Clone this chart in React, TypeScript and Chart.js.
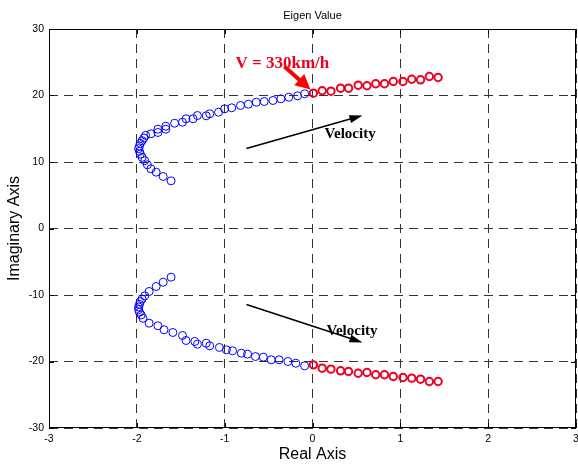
import React, { useEffect, useRef } from "react";
import { Chart, registerables } from "chart.js";

Chart.register(...registerables);

const W = 578;
const H = 467;

// Tick values
const xTicks = [-3, -2, -1, 0, 1, 2, 3];
const yTicks = [-30, -20, -10, 0, 10, 20, 30];

// Upper branch, below 330 km/h (blue)
const upperBlueX = [-1.61, -1.70, -1.78, -1.84, -1.88, -1.91, -1.94, -1.96, -1.97, -1.98, -1.97, -1.96, -1.94, -1.92, -1.90, -1.84, -1.76, -1.76, -1.67, -1.67, -1.57, -1.48, -1.44, -1.36, -1.31, -1.21, -1.17, -1.07, -1.00, -0.92, -0.82, -0.73, -0.64, -0.55, -0.45, -0.36, -0.27, -0.17, -0.09];
const upperBlueY = [7.17, 7.82, 8.47, 8.98, 9.58, 10.2, 10.7, 11.2, 11.6, 12.0, 12.4, 12.8, 13.2, 13.6, 14.0, 14.24, 14.44, 14.93, 14.93, 15.38, 15.83, 15.98, 16.5, 16.5, 16.99, 16.95, 17.25, 17.49, 18.0, 18.15, 18.5, 18.69, 18.99, 19.1, 19.25, 19.5, 19.74, 19.95, 20.26];

// Upper branch, above 330 km/h (red)
const upperRedX = [0.01, 0.11, 0.21, 0.32, 0.41, 0.52, 0.62, 0.72, 0.82, 0.92, 1.03, 1.13, 1.23, 1.33, 1.43];
const upperRedY = [20.35, 20.71, 20.65, 21.1, 21.1, 21.55, 21.46, 21.76, 21.76, 22.1, 22.1, 22.45, 22.36, 22.86, 22.71];

// Lower branch, below 330 km/h (blue)
const lowerBlueX = [-1.61, -1.70, -1.78, -1.86, -1.91, -1.94, -1.96, -1.97, -1.98, -1.98, -1.97, -1.95, -1.93, -1.86, -1.76, -1.69, -1.59, -1.48, -1.44, -1.34, -1.31, -1.21, -1.17, -1.06, -0.98, -0.91, -0.81, -0.74, -0.65, -0.56, -0.47, -0.38, -0.28, -0.19, -0.09];
const lowerBlueY = [-7.32, -8.08, -8.72, -9.47, -10.12, -10.6, -11.0, -11.4, -11.8, -12.2, -12.6, -13.0, -13.5, -14.24, -14.63, -15.23, -15.64, -16.09, -16.84, -16.99, -17.4, -17.25, -17.64, -17.89, -18.24, -18.39, -18.75, -18.9, -19.25, -19.35, -19.74, -19.74, -20.0, -20.26, -20.65];

// Lower branch, above 330 km/h (red)
const lowerRedX = [0.01, 0.11, 0.21, 0.32, 0.41, 0.52, 0.62, 0.72, 0.82, 0.92, 1.03, 1.13, 1.23, 1.33, 1.43];
const lowerRedY = [-20.5, -21.0, -21.15, -21.4, -21.5, -21.76, -21.65, -22.0, -22.0, -22.26, -22.4, -22.5, -22.66, -23.0, -23.0];

const titleText = "Eigen Value";
const xLabel = "Real Axis";
const yLabel = "Imaginary Axis";
const speedLabel = "V = 330km/h";
const velocityLabel = "Velocity";

const SANS = '"Liberation Sans", Arial, sans-serif';
const SERIF = '"Liberation Serif", "Times New Roman", serif';
const BLUE = "#0000ff";
const RED = "#ee0022";

function toPts(xs: number[], ys: number[]) {
  return xs.map((x, i) => ({ x, y: ys[i] }));
}

function drawArrow(
  ctx: CanvasRenderingContext2D,
  x1: number, y1: number, x2: number, y2: number,
  color: string, lw: number, headLen: number, headHalf: number
) {
  const ang = Math.atan2(y2 - y1, x2 - x1);
  const bx = x2 - Math.cos(ang) * headLen;
  const by = y2 - Math.sin(ang) * headLen;
  ctx.save();
  ctx.strokeStyle = color;
  ctx.fillStyle = color;
  ctx.lineWidth = lw;
  ctx.beginPath();
  ctx.moveTo(x1, y1);
  ctx.lineTo(bx + Math.cos(ang) * 2, by + Math.sin(ang) * 2);
  ctx.stroke();
  ctx.beginPath();
  ctx.moveTo(x2, y2);
  ctx.lineTo(bx + Math.sin(ang) * headHalf, by - Math.cos(ang) * headHalf);
  ctx.lineTo(bx - Math.sin(ang) * headHalf, by + Math.cos(ang) * headHalf);
  ctx.closePath();
  ctx.fill();
  ctx.restore();
}

const decor = {
  id: "decor",
  afterDraw(chart: any) {
    const ctx: CanvasRenderingContext2D = chart.ctx;
    const { left, right, top, bottom } = chart.chartArea;
    const xs = chart.scales.x;
    const ys = chart.scales.y;
    const cx = (left + right) / 2;
    ctx.save();

    // frame
    ctx.strokeStyle = "#000";
    ctx.lineWidth = 1;
    ctx.setLineDash([]);
    ctx.strokeRect(left + 0.5, top + 0.5, right - left - 1, bottom - top - 1);

    // inward ticks
    ctx.beginPath();
    xTicks.forEach((v) => {
      const p = Math.round(xs.getPixelForValue(v)) + 0.5;
      ctx.moveTo(p, bottom);
      ctx.lineTo(p, bottom - 5);
      ctx.moveTo(p, top);
      ctx.lineTo(p, top + 5);
    });
    yTicks.forEach((v) => {
      const p = Math.round(ys.getPixelForValue(v)) + 0.5;
      ctx.moveTo(left, p);
      ctx.lineTo(left + 5, p);
      ctx.moveTo(right, p);
      ctx.lineTo(right - 5, p);
    });
    ctx.stroke();

    // titles
    ctx.fillStyle = "#000";
    ctx.textAlign = "center";
    ctx.textBaseline = "middle";
    ctx.font = `11px ${SANS}`;
    ctx.fillText(titleText, cx, 16);
    ctx.font = `16px ${SANS}`;
    ctx.fillText(xLabel, cx, 455);
    ctx.save();
    ctx.translate(15, (top + bottom) / 2);
    ctx.rotate(-Math.PI / 2);
    ctx.fillText(yLabel, 0, 0);
    ctx.restore();

    // annotations
    const px = (v: number) => xs.getPixelForValue(v);
    const py = (v: number) => ys.getPixelForValue(v);
    ctx.textAlign = "left";
    ctx.textBaseline = "alphabetic";
    ctx.font = `bold 17px ${SERIF}`;
    ctx.fillStyle = RED;
    ctx.fillText(speedLabel, px(-0.877), py(24.2));
    drawArrow(ctx, px(-0.32), py(24.36), px(-0.023), py(20.9), "#ff0000", 4, 15, 7.5);

    ctx.fillStyle = "#000";
    ctx.font = `bold 15px ${SERIF}`;
    ctx.fillText(velocityLabel, px(0.137), py(13.68));
    ctx.fillText(velocityLabel, px(0.159), py(-15.94));
    drawArrow(ctx, px(-0.752), py(12.03), px(0.569), py(16.99), "#000", 1.5, 13, 4);
    drawArrow(ctx, px(-0.752), py(-11.43), px(0.569), py(-17.14), "#000", 1.5, 13, 4);

    ctx.restore();
  },
};

export default function App() {
  const ref = useRef<HTMLCanvasElement>(null);

  useEffect(() => {
    const canvas = ref.current;
    if (!canvas) return;
    const blueStyle = {
      pointStyle: "circle",
      pointRadius: 4,
      pointBorderWidth: 1,
      pointBorderColor: BLUE,
      pointBackgroundColor: "rgba(0,0,0,0)",
      showLine: false,
    };
    const redStyle = {
      pointStyle: "circle",
      pointRadius: 3.7,
      pointBorderWidth: 2,
      pointBorderColor: RED,
      pointBackgroundColor: "rgba(0,0,0,0)",
      showLine: false,
    };
    const tickFont = { family: SANS, size: 10.5 };
    const chart = new Chart(canvas, {
      type: "scatter",
      data: {
        datasets: [
          { label: "upper low", data: toPts(upperBlueX, upperBlueY), ...blueStyle } as any,
          { label: "upper high", data: toPts(upperRedX, upperRedY), ...redStyle } as any,
          { label: "lower low", data: toPts(lowerBlueX, lowerBlueY), ...blueStyle } as any,
          { label: "lower high", data: toPts(lowerRedX, lowerRedY), ...redStyle } as any,
        ],
      },
      options: {
        responsive: false,
        animation: false,
        devicePixelRatio: 1,
        events: [],
        layout: { autoPadding: false, padding: { top: 29, right: 2, left: 0, bottom: 0 } },
        plugins: {
          legend: { display: false },
          title: { display: false },
          tooltip: { enabled: false },
        },
        scales: {
          x: {
            type: "linear",
            min: -3,
            max: 3,
            afterBuildTicks: (s: any) => {
              s.ticks = xTicks.map((v) => ({ value: v }));
            },
            afterFit: (s: any) => {
              s.height = 39;
              s.paddingLeft = 0;
              s.paddingRight = 0;
            },
            ticks: { font: tickFont, color: "#000", padding: 5, maxRotation: 0, autoSkip: false },
            grid: { color: "#333", lineWidth: 1, drawTicks: false },
            border: { display: false, dash: [9, 6] },
          },
          y: {
            type: "linear",
            min: -30,
            max: 30,
            afterBuildTicks: (s: any) => {
              s.ticks = yTicks.map((v) => ({ value: v }));
            },
            afterFit: (s: any) => {
              s.width = 49;
              s.paddingTop = 0;
              s.paddingBottom = 0;
            },
            ticks: { font: tickFont, color: "#000", padding: 5, autoSkip: false },
            grid: { color: "#333", lineWidth: 1, drawTicks: false },
            border: { display: false, dash: [9, 6] },
          },
        },
      } as any,
      plugins: [decor],
    });
    return () => chart.destroy();
  }, []);

  return (
    <canvas
      ref={ref}
      width={W}
      height={H}
      style={{ position: "fixed", left: 0, top: 0, width: W, height: H, background: "#fff" }}
    />
  );
}
